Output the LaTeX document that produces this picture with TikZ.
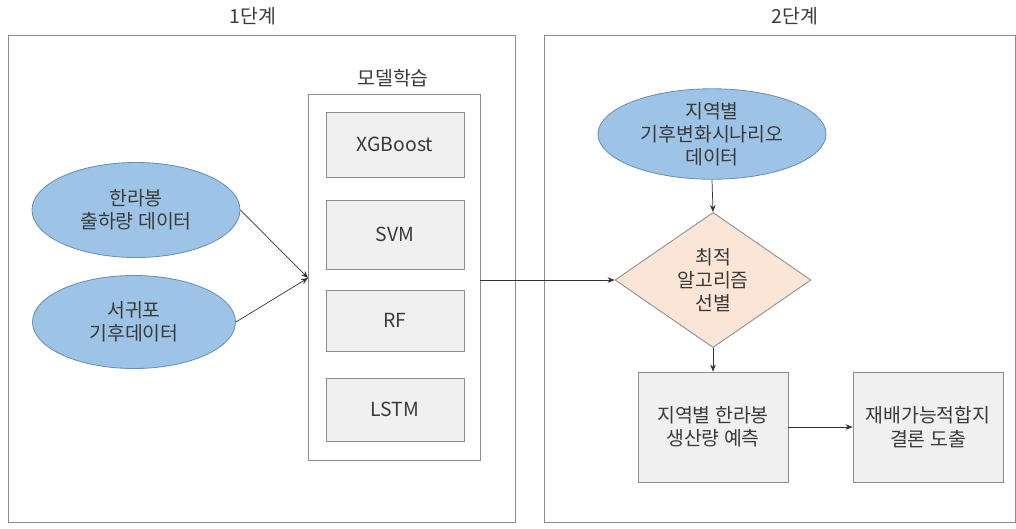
\documentclass[tikz,border=0pt]{standalone}
\usepackage{fontspec}
\setmainfont{Noto Sans CJK KR}
\usepackage{tikz}
\usetikzlibrary{shapes.geometric,arrows.meta}
\definecolor{lineg}{HTML}{8C8C8C}
\definecolor{txtg}{HTML}{3A3A3A}
\definecolor{ellfill}{HTML}{9DC3E6}
\definecolor{ellline}{HTML}{6A8FB3}
\definecolor{diafill}{HTML}{FBE5D6}
\definecolor{boxfill}{HTML}{F0F0F0}

\begin{document}
\begin{tikzpicture}[x=0.25mm,y=-0.25mm,
    every node/.style={text=txtg,font=\fontsize{13.8}{16.5}\selectfont,align=center},
    frame/.style={draw=lineg,line width=0.6pt},
    algbox/.style={draw=lineg,fill=boxfill,line width=0.6pt,minimum width=138*0.25mm,inner sep=0pt},
    databall/.style={ellipse,draw=ellline,fill=ellfill,line width=0.6pt,inner sep=0pt},
    choice/.style={diamond,draw=lineg,fill=diafill,line width=0.6pt,inner sep=0pt,minimum width=196*0.25mm,minimum height=104*0.25mm},
    stepbox/.style={draw=lineg,fill=boxfill,line width=0.6pt,minimum width=150*0.25mm,minimum height=110*0.25mm,inner sep=0pt},
    link/.style={draw=black!80,line width=0.5pt,-{Stealth[length=5pt,width=4pt]}}]
    \useasboundingbox (0,0) rectangle (1016,528);
    % stages
    \draw[frame] (8,35) rectangle (515,522);
    \draw[frame] (544,35) rectangle (1015,522);
    \node (s1) at (253,16) {1단계};
    \node (s2) at (795,16) {2단계};
    % stage 1
    \node (title) at (393,78) {모델학습};
    \draw[frame] (308,94) rectangle (480,460);
    \coordinate (mleft) at (308,278);
    \coordinate (mright) at (480,280);
    \node[algbox,minimum height=65*0.25mm] (xgb) at (395,144.5) {XGBoost};
    \node[algbox,minimum height=69*0.25mm] (svm) at (395,234.5) {SVM};
    \node[algbox,minimum height=61*0.25mm] (rf) at (395,320.5) {RF};
    \node[algbox,minimum height=63*0.25mm] (lstm) at (395,409.5) {LSTM};
    \node[databall,minimum width=208*0.25mm,minimum height=95*0.25mm] (ship) at (136,210) {한라봉\\출하량 데이터};
    \node[databall,minimum width=203*0.25mm,minimum height=93*0.25mm] (clim) at (134,322) {서귀포\\기후데이터};
    \draw[link] (ship.east) -- (mleft);
    \draw[link] (clim.east) -- (mleft);
    % stage 2
    \node[databall,minimum width=228*0.25mm,minimum height=75*0.25mm] (scen) at (712,134) {지역별\\기후변화시나리오\\데이터};
    \node[choice] (best) at (713,280) {최적\\알고리즘\\선별};
    \node[stepbox] (pred) at (713,427) {지역별 한라봉\\생산량 예측};
    \node[stepbox] (site) at (928,427) {재배가능적합지\\결론 도출};
    \draw[link] (mright) -- (best.west);
    \draw[link] (scen.south) -- (best.north);
    \draw[link] (best.south) -- (pred.north);
    \draw[link] (pred.east) -- (site.west);
\end{tikzpicture}
\end{document}
